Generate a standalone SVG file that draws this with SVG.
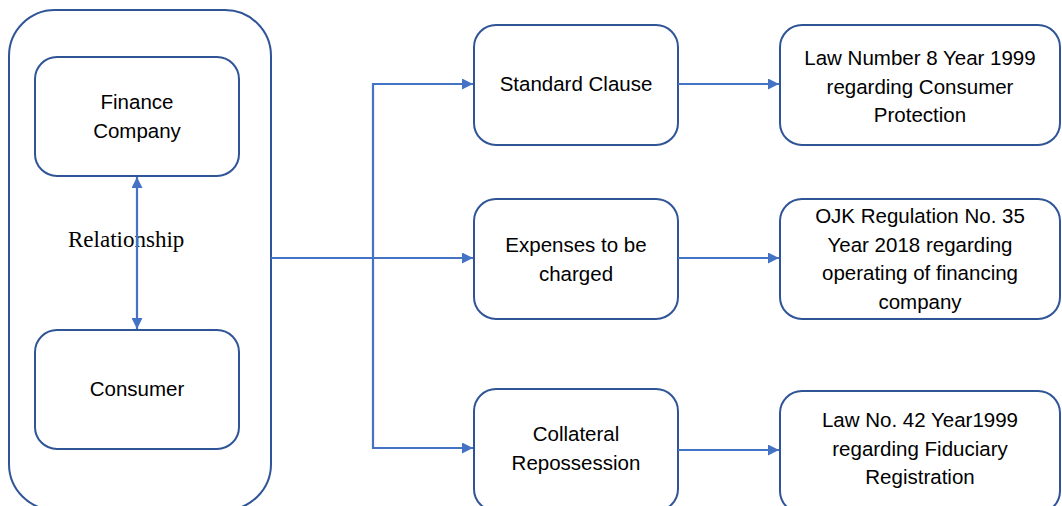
<svg xmlns="http://www.w3.org/2000/svg" width="1062" height="506" viewBox="0 0 1062 506">
<style>
.box{fill:#fff;stroke:#2F5597;stroke-width:2}
.t{font-family:"Liberation Sans",Arial,sans-serif;font-size:20.5px;fill:#000;text-anchor:middle}
.rel{font-family:"Liberation Serif","Times New Roman",serif;font-size:23px;fill:#000}
.c{fill:none;stroke:#4472C4;stroke-width:2.2}
</style>
<defs>
<marker id="ah" viewBox="0 0 11 11" refX="11" refY="5.5" markerWidth="11" markerHeight="11" markerUnits="userSpaceOnUse" orient="auto-start-reverse">
<path d="M0,0 L11,5.5 L0,11 Z" fill="#4472C4"/>
</marker>
</defs>
<g id="container"><rect class="box" x="9" y="10" width="262" height="500" rx="46"/></g>
<g id="finance"><rect class="box" x="35" y="57" width="204" height="119" rx="22"/>
<text class="t" x="137" y="109">Finance</text><text class="t" x="137" y="138">Company</text></g>
<g id="consumer"><rect class="box" x="35" y="330" width="204" height="119" rx="22"/>
<text class="t" x="137" y="396">Consumer</text></g>
<g id="standard"><rect class="box" x="474" y="25" width="204" height="120" rx="22"/>
<text class="t" x="576" y="91">Standard Clause</text></g>
<g id="expenses"><rect class="box" x="474" y="199" width="204" height="120" rx="22"/>
<text class="t" x="576" y="252">Expenses to be</text><text class="t" x="576" y="281">charged</text></g>
<g id="collateral"><rect class="box" x="474" y="389" width="204" height="122" rx="22"/>
<text class="t" x="576" y="441">Collateral</text><text class="t" x="576" y="470">Repossession</text></g>
<g id="law8"><rect class="box" x="780" y="25" width="280" height="120" rx="22"/>
<text class="t" x="920" y="65">Law Number 8 Year 1999</text><text class="t" x="920" y="93.5">regarding Consumer</text><text class="t" x="920" y="122">Protection</text></g>
<g id="ojk"><rect class="box" x="780" y="199" width="280" height="120" rx="22"/>
<text class="t" x="920" y="223">OJK Regulation No. 35</text><text class="t" x="920" y="251.5">Year 2018 regarding</text><text class="t" x="920" y="280">operating of financing</text><text class="t" x="920" y="308.5">company</text></g>
<g id="law42"><rect class="box" x="780" y="391" width="280" height="122" rx="22"/>
<text class="t" x="920" y="427">Law No. 42 Year1999</text><text class="t" x="920" y="456">regarding Fiduciary</text><text class="t" x="920" y="484">Registration</text></g>
<g id="label"><text class="rel" x="68" y="247">Relationship</text></g>
<g id="connectors">
<line class="c" x1="137" y1="177" x2="137" y2="329" marker-start="url(#ah)" marker-end="url(#ah)"/>
<line class="c" x1="271" y1="258" x2="473" y2="258" marker-end="url(#ah)"/>
<polyline class="c" points="473,84 373,84 373,448 473,448" marker-start="url(#ah)" marker-end="url(#ah)"/>
<line class="c" x1="678" y1="84" x2="779" y2="84" marker-end="url(#ah)"/>
<line class="c" x1="678" y1="258" x2="779" y2="258" marker-end="url(#ah)"/>
<line class="c" x1="678" y1="450" x2="779" y2="450" marker-end="url(#ah)"/>
</g>
</svg>
